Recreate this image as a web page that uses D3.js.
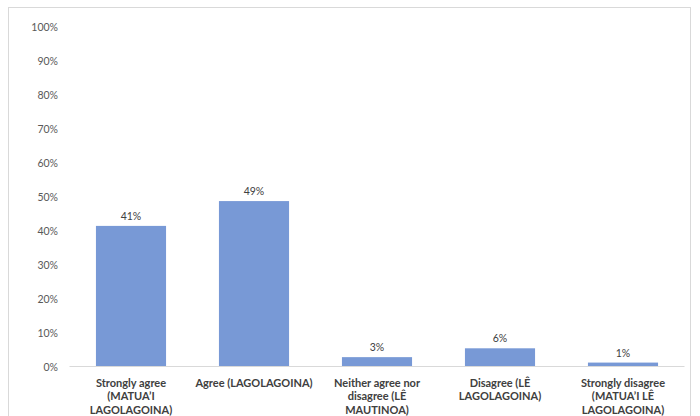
<!DOCTYPE html>
<html><head><meta charset="utf-8">
<script src="https://cdn.jsdelivr.net/npm/d3@7"></script>
<style>body{margin:0;background:#fff;}svg{display:block;font-family:Lato,"Open Sans",sans-serif;}</style>
</head><body>
<svg id="c" width="700" height="416"></svg>
<script>
const categories = [
  ["Strongly agree", "(MATUA\u2019I", "LAGOLAGOINA)"],
  ["Agree (LAGOLAGOINA)"],
  ["Neither agree nor", "disagree (L\u00CA", "MAUTINOA)"],
  ["Disagree (L\u00CA", "LAGOLAGOINA)"],
  ["Strongly disagree", "(MATUA\u2019I L\u00CA", "LAGOLAGOINA)"]
];
const values = [41.5, 48.8, 2.9, 5.5, 1.3];
const valueLabels = ["41%", "49%", "3%", "6%", "1%"];
const yTicks = [0,10,20,30,40,50,60,70,80,90,100];

const svg = d3.select("#c");
svg.append("rect").attr("x",8.5).attr("y",7.5).attr("width",682).attr("height",420)
  .attr("fill","#fff").attr("stroke","#d9d9d9");

const x = d3.scaleBand().domain(d3.range(categories.length)).range([69.5,684.5]).paddingInner(0.43).paddingOuter(0.215);
const y = d3.scaleLinear().domain([0,100]).range([367,27]);

const yAxis = svg.append("g").attr("transform","translate(58,0)")
  .call(d3.axisLeft(y).tickValues(yTicks).tickFormat(d=>d+"%").tickSize(0).tickPadding(0));
yAxis.select(".domain").remove();
yAxis.selectAll("text").attr("fill","#595959").style("font-size","10.5px").style("font-family","Lato,'Open Sans',sans-serif");

svg.append("g").selectAll("rect").data(values).join("rect")
  .attr("x",(d,i)=>x(i)).attr("width",x.bandwidth())
  .attr("y",d=>y(d)).attr("height",d=>y(0)-y(d))
  .attr("fill","#7899d6");

svg.append("line").attr("x1",69.5).attr("x2",684.5).attr("y1",366.5).attr("y2",366.5)
  .attr("stroke","#d9d9d9");

svg.append("g").selectAll("text").data(values).join("text")
  .attr("x",(d,i)=>x(i)+x.bandwidth()/2).attr("y",d=>y(d)-6)
  .attr("text-anchor","middle").attr("fill","#404040").style("font-size","10.5px")
  .text((d,i)=>valueLabels[i]);

const cg = svg.append("g");
categories.forEach((lines,i)=>{
  const t = cg.append("text").attr("text-anchor","middle").attr("fill","#404040")
    .style("font-size","11px").style("font-weight","bold");
  lines.forEach((l,j)=>{
    t.append("tspan").attr("x",x(i)+x.bandwidth()/2).attr("y",387+j*13.3).text(l);
  });
});
</script>
</body></html>
